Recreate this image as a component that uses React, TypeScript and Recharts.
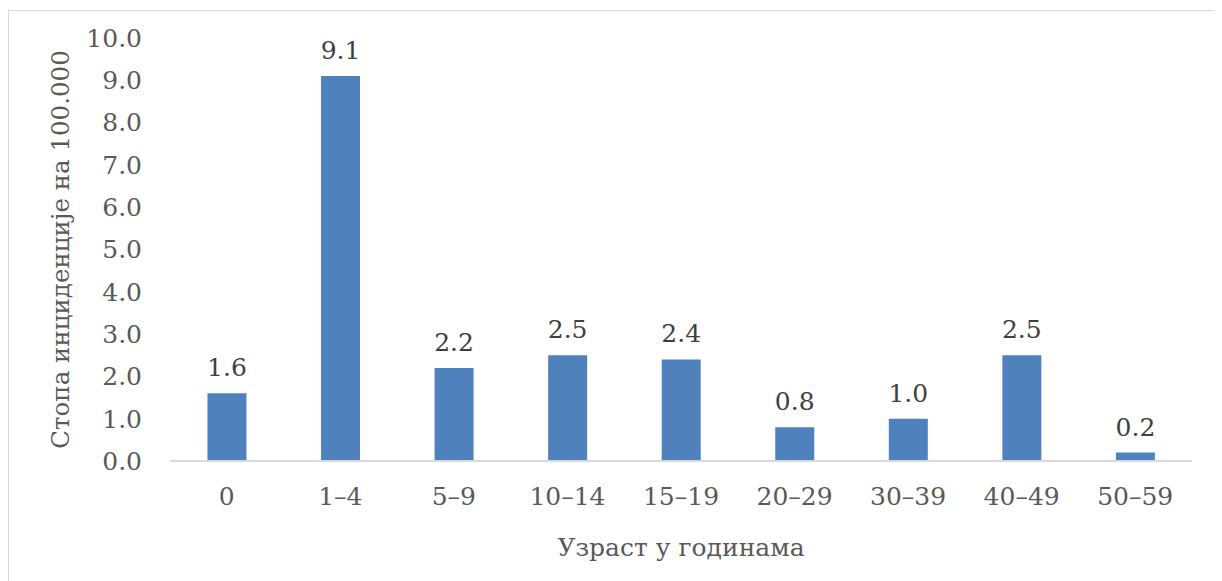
import { BarChart, Bar, XAxis, YAxis, LabelList, Label } from "recharts";

const ageGroups = ["0", "1–4", "5–9", "10–14", "15–19", "20–29", "30–39", "40–49", "50–59"];
const incidence = [1.6, 9.1, 2.2, 2.5, 2.4, 0.8, 1.0, 2.5, 0.2];
const yTicks = [0, 1, 2, 3, 4, 5, 6, 7, 8, 9, 10];

const data = ageGroups.map((age, i) => ({ age, rate: incidence[i] }));

const font = "'DejaVu Serif', serif";
const size = 25;

export default function App() {
  return (
    <div
      style={{
        marginTop: 2,
        width: 1208,
        height: 571,
        border: "1px solid #d9d9d9",
        background: "#fff",
        fontFamily: font,
      }}
    >
      <BarChart
        width={1208}
        height={571}
        data={data}
        margin={{ top: 27, right: 25, left: 0, bottom: 0 }}
        barCategoryGap="33%"
        style={{ fontFamily: font }}
      >
        <XAxis
          dataKey="age"
          height={121}
          tickLine={false}
          axisLine={{ stroke: "#d9d9d9", strokeWidth: 2 }}
          tickMargin={20}
          tick={{ fill: "#595959", fontSize: size, fontFamily: font }}
          interval={0}
        >
          <Label
            value="Узраст у годинама"
            position="insideBottom"
            offset={26}
            style={{ fill: "#595959", fontSize: size, fontFamily: font }}
          />
        </XAxis>
        <YAxis
          width={161}
          domain={[0, 10]}
          ticks={yTicks}
          interval={0}
          axisLine={false}
          tickLine={false}
          tickMargin={22}
          tickFormatter={(v: number) => v.toFixed(1)}
          tick={{ fill: "#595959", fontSize: size, fontFamily: font }}
        >
          <Label
            value="Стопа инциденције на 100.000"
            angle={-90}
            position="center"
            dx={-29}
            style={{ fill: "#595959", fontSize: 24.5, fontFamily: font, textAnchor: "middle" }}
          />
        </YAxis>
        <Bar dataKey="rate" fill="#4f81bd" isAnimationActive={false}>
          <LabelList
            dataKey="rate"
            position="top"
            offset={17}
            formatter={(v: number) => v.toFixed(1)}
            style={{ fill: "#404040", fontSize: size, fontFamily: font }}
          />
        </Bar>
      </BarChart>
    </div>
  );
}
